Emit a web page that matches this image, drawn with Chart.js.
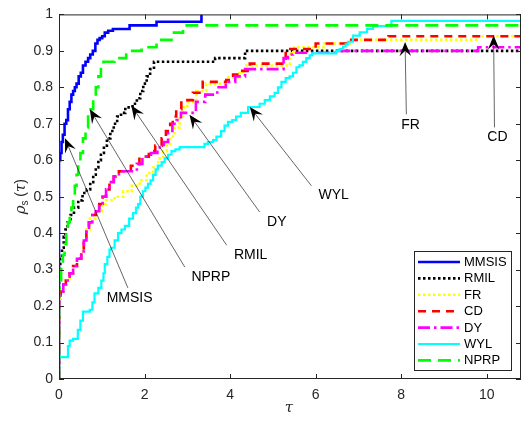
<!DOCTYPE html>
<html>
<head>
<meta charset="utf-8">
<script src="https://cdn.jsdelivr.net/npm/chart.js@4.4.1/dist/chart.umd.min.js"></script>
<style>
  html, body { margin: 0; padding: 0; background: #fff; }
  canvas { display: block; }
</style>
</head>
<body>
<canvas id="profile" width="522" height="421"></canvas>
<script>
// performance profile data (tau, rho(tau))
var mmsisTau = [0, 0, 0.03, 0.06, 0.09, 0.13, 0.17, 0.21, 0.25, 0.29, 0.33, 0.37, 0.41, 0.46, 0.51, 0.56, 0.62, 0.68, 0.73, 0.79, 0.85, 0.9, 0.95, 1.01, 1.07, 1.15, 1.26, 1.65, 2.28, 3.33];
var mmsisRho = [0, 0.6, 0.62, 0.65, 0.67, 0.70, 0.71, 0.74, 0.76, 0.78, 0.79, 0.80, 0.81, 0.83, 0.84, 0.86, 0.87, 0.88, 0.89, 0.90, 0.92, 0.93, 0.935, 0.94, 0.95, 0.955, 0.96, 0.97, 0.98, 1.0];

var rmilTau = [0, 0, 0.03, 0.07, 0.11, 0.15, 0.2, 0.27, 0.35, 0.45, 0.55, 0.65, 0.73, 0.8, 0.86, 0.92, 0.98, 1.05, 1.12, 1.2, 1.28, 1.36, 1.45, 1.55, 1.72, 1.82, 1.9, 1.97, 2.05, 2.13, 2.22, 3.65, 4.35];
var rmilRho = [0, 0.30, 0.33, 0.36, 0.39, 0.41, 0.43, 0.45, 0.47, 0.49, 0.51, 0.52, 0.54, 0.56, 0.58, 0.60, 0.62, 0.64, 0.66, 0.68, 0.70, 0.72, 0.73, 0.745, 0.755, 0.77, 0.79, 0.81, 0.83, 0.85, 0.87, 0.88, 0.90];

var frTau = [0, 0, 0.04, 0.1, 0.16, 0.25, 0.33, 0.42, 0.52, 0.58, 0.64, 0.72, 0.85, 1.0, 1.1, 1.3, 1.5, 1.7, 1.89, 2.05, 2.2, 2.32, 2.43, 2.52, 2.6, 2.7, 2.82, 2.9, 3.0, 3.21, 3.44, 3.91, 4.22, 4.38, 5.4, 5.5, 6.2, 6.8, 9.8];
var frRho = [0, 0.22, 0.24, 0.26, 0.27, 0.29, 0.31, 0.33, 0.35, 0.38, 0.41, 0.44, 0.46, 0.48, 0.49, 0.50, 0.515, 0.53, 0.545, 0.565, 0.58, 0.605, 0.625, 0.645, 0.665, 0.69, 0.72, 0.745, 0.76, 0.79, 0.81, 0.828, 0.842, 0.86, 0.897, 0.91, 0.92, 0.93, 0.94];

var cdTau = [0, 0, 0.04, 0.1, 0.16, 0.25, 0.33, 0.42, 0.52, 0.58, 0.64, 0.7, 0.78, 0.86, 0.94, 1.02, 1.1, 1.18, 1.28, 1.4, 1.68, 1.88, 2.1, 2.25, 2.4, 2.5, 2.6, 2.66, 2.74, 2.86, 3.13, 3.36, 3.91, 4.07, 4.22, 4.46, 5.3, 6.0, 6.8, 7.7];
var cdRho = [0, 0.23, 0.24, 0.26, 0.27, 0.29, 0.31, 0.33, 0.35, 0.38, 0.41, 0.43, 0.45, 0.46, 0.48, 0.50, 0.52, 0.54, 0.555, 0.57, 0.585, 0.61, 0.625, 0.64, 0.66, 0.68, 0.70, 0.72, 0.74, 0.765, 0.785, 0.815, 0.82, 0.835, 0.845, 0.865, 0.905, 0.92, 0.93, 0.94];

var dyTau = [0, 0, 0.04, 0.1, 0.16, 0.25, 0.33, 0.42, 0.52, 0.58, 0.64, 0.7, 0.78, 0.86, 0.94, 1.02, 1.1, 1.18, 1.28, 1.4, 1.82, 1.95, 2.15, 2.3, 2.45, 2.55, 2.65, 2.75, 2.85, 3.2, 3.42, 3.7, 3.9, 4.12, 4.35, 5.25, 5.35, 5.47, 6.45, 9.8];
var dyRho = [0, 0.23, 0.24, 0.26, 0.27, 0.29, 0.31, 0.33, 0.35, 0.38, 0.41, 0.43, 0.45, 0.46, 0.48, 0.50, 0.52, 0.54, 0.555, 0.57, 0.59, 0.61, 0.62, 0.635, 0.65, 0.68, 0.70, 0.71, 0.73, 0.76, 0.78, 0.80, 0.815, 0.83, 0.85, 0.88, 0.89, 0.895, 0.90, 0.91];

var wylTau = [0, 0, 0.21, 0.25, 0.33, 0.44, 0.5, 0.56, 0.72, 0.78, 0.83, 0.92, 0.99, 1.04, 1.07, 1.13, 1.18, 1.22, 1.3, 1.38, 1.46, 1.54, 1.64, 1.73, 1.8, 1.85, 1.9, 1.96, 2.02, 2.08, 2.14, 2.2, 2.26, 2.31, 2.4, 2.47, 2.55, 2.63, 2.72, 2.82, 3.4, 3.48, 3.6, 3.68, 3.79, 3.87, 3.95, 4.05, 4.14, 4.25, 4.42, 4.69, 4.81, 4.93, 5.04, 5.12, 5.2, 5.3, 5.39, 5.47, 5.55, 5.62, 5.7, 5.78, 5.86, 5.92, 6.48, 6.56, 6.64, 6.7, 6.75, 6.87, 7.03, 7.2, 7.34, 7.77];
var wylRho = [0, 0.06, 0.09, 0.105, 0.11, 0.135, 0.16, 0.185, 0.19, 0.21, 0.235, 0.25, 0.27, 0.29, 0.315, 0.335, 0.355, 0.36, 0.38, 0.40, 0.41, 0.42, 0.44, 0.455, 0.47, 0.48, 0.50, 0.515, 0.525, 0.535, 0.545, 0.56, 0.575, 0.585, 0.595, 0.605, 0.615, 0.625, 0.63, 0.636, 0.645, 0.65, 0.655, 0.665, 0.68, 0.695, 0.705, 0.71, 0.72, 0.73, 0.746, 0.755, 0.765, 0.775, 0.785, 0.80, 0.815, 0.825, 0.83, 0.84, 0.855, 0.86, 0.87, 0.88, 0.888, 0.893, 0.90, 0.905, 0.912, 0.918, 0.925, 0.942, 0.951, 0.96, 0.968, 0.982];

var nprpTau = [0, 0, 0.02, 0.05, 0.09, 0.13, 0.17, 0.21, 0.25, 0.29, 0.33, 0.37, 0.41, 0.45, 0.5, 0.56, 0.62, 0.68, 0.74, 0.8, 0.86, 0.92, 0.98, 1.04, 1.3, 1.57, 1.93, 2.28, 2.63, 2.9];
var nprpRho = [0, 0.25, 0.27, 0.30, 0.34, 0.37, 0.40, 0.43, 0.45, 0.47, 0.50, 0.53, 0.56, 0.59, 0.62, 0.66, 0.69, 0.72, 0.74, 0.77, 0.80, 0.83, 0.85, 0.87, 0.88, 0.90, 0.91, 0.93, 0.95, 0.97];

var xTicks = [0, 2, 4, 6, 8, 10];
var yTicks = [0, 0.1, 0.2, 0.3, 0.4, 0.5, 0.6, 0.7, 0.8, 0.9, 1];
var tauMax = 10.8;

// text arrows: label, arrow tip (tau, rho), tail (tau, rho), text centre (tau, rho)
var noteLabels = ['MMSIS', 'NPRP', 'RMIL', 'DY', 'WYL', 'FR', 'CD'];
var noteTip = [[0.14, 0.66], [0.72, 0.74], [1.69, 0.75], [3.05, 0.725], [4.46, 0.746], [8.09, 0.924], [10.16, 0.942]];
var noteTail = [[1.61, 0.25], [2.94, 0.307], [3.92, 0.367], [4.69, 0.458], [5.9, 0.53], [8.12, 0.726], [10.18, 0.69]];
var noteText = [[1.65, 0.222], [3.55, 0.279], [4.48, 0.34], [5.09, 0.43], [6.42, 0.504], [8.22, 0.696], [10.25, 0.663]];

function toPoints(tau, rho, hold) {
  var pts = [];
  for (var i = 0; i < tau.length; i++) {
    pts.push({x: tau[i], y: rho[i]});
  }
  // hold last value until the right edge, like stairs()
  if (hold) pts.push({x: tauMax, y: rho[rho.length - 1]});
  return pts;
}

function series(label, tau, rho, color, dash, width, order, hold) {
  return {
    label: label,
    data: toPoints(tau, rho, hold),
    borderColor: color,
    backgroundColor: color,
    borderDash: dash,
    borderWidth: width,
    stepped: 'before',
    pointRadius: 0,
    fill: false,
    order: order
  };
}

var datasets = [
  series('MMSIS', mmsisTau, mmsisRho, '#0000ff', [], 2.6, 7, false),
  series('RMIL', rmilTau, rmilRho, '#000000', [2.5, 2.5], 2.6, 6, true),
  series('FR', frTau, frRho, '#ffff00', [2.5, 2.5], 2.6, 5, true),
  series('CD', cdTau, cdRho, '#ff0000', [8, 6], 2.6, 4, true),
  series('DY', dyTau, dyRho, '#ff00ff', [12, 4, 2.5, 4], 2.6, 3, true),
  series('WYL', wylTau, wylRho, '#00ffff', [], 2.2, 2, true),
  series('NPRP', nprpTau, nprpRho, '#00ff00', [13, 7], 2.6, 1, true)
];

var axisColor = '#262626';
var fontFamily = '"Liberation Sans", Arial, Helvetica, sans-serif';

var matlabFrame = {
  id: 'matlabFrame',
  afterDraw: function (chart) {
    var ctx = chart.ctx;
    var a = chart.chartArea;
    var xs = chart.scales.x, ys = chart.scales.y;
    ctx.save();

    // axes box with inward ticks
    ctx.strokeStyle = axisColor;
    ctx.lineWidth = 1;
    ctx.setLineDash([]);
    ctx.strokeRect(a.left + 0.5, a.top + 0.5, a.right - a.left - 1, a.bottom - a.top - 1);
    ctx.beginPath();
    xTicks.forEach(function (v) {
      var px = Math.round(xs.getPixelForValue(v)) + 0.5;
      ctx.moveTo(px, a.bottom); ctx.lineTo(px, a.bottom - 5);
      ctx.moveTo(px, a.top); ctx.lineTo(px, a.top + 5);
    });
    yTicks.forEach(function (v) {
      var py = Math.round(ys.getPixelForValue(v)) + 0.5;
      ctx.moveTo(a.left, py); ctx.lineTo(a.left + 5, py);
      ctx.moveTo(a.right, py); ctx.lineTo(a.right - 5, py);
    });
    ctx.stroke();

    // axis titles
    ctx.fillStyle = axisColor;
    ctx.textAlign = 'center';
    ctx.textBaseline = 'middle';
    ctx.font = 'italic 15px "DejaVu Serif", "Liberation Serif", serif';
    ctx.fillText('\u03c4', (a.left + a.right) / 2 - 1, 408);

    ctx.save();
    ctx.translate(20, (a.top + a.bottom) / 2);
    ctx.rotate(-Math.PI / 2);
    ctx.textAlign = 'left';
    ctx.textBaseline = 'alphabetic';
    var greek = 'italic 15px "DejaVu Serif", "Liberation Serif", serif';
    var sub = '10px ' + fontFamily;
    var parts = [['\u03c1', greek, 0], ['s', sub, 3], [' (', '14px ' + fontFamily, 0], ['\u03c4', greek, 0], [')', '14px ' + fontFamily, 0]];
    var total = 0;
    parts.forEach(function (p) { ctx.font = p[1]; total += ctx.measureText(p[0]).width; });
    var cx = -total / 2;
    parts.forEach(function (p) {
      ctx.font = p[1];
      ctx.fillText(p[0], cx, 5 + p[2]);
      cx += ctx.measureText(p[0]).width;
    });
    ctx.restore();

    // text arrows
    ctx.font = '14px ' + fontFamily;
    ctx.textAlign = 'center';
    ctx.textBaseline = 'middle';
    noteLabels.forEach(function (label, i) {
      var tx = xs.getPixelForValue(noteTip[i][0]), ty = ys.getPixelForValue(noteTip[i][1]);
      var sx = xs.getPixelForValue(noteTail[i][0]), sy = ys.getPixelForValue(noteTail[i][1]);
      var dx = tx - sx, dy = ty - sy;
      var len = Math.sqrt(dx * dx + dy * dy);
      var ux = dx / len, uy = dy / len;
      var nx = -uy, ny = ux;
      var L = 14, W = 5.8;
      ctx.strokeStyle = '#222';
      ctx.lineWidth = 0.7;
      ctx.beginPath();
      ctx.moveTo(sx, sy);
      ctx.lineTo(tx - ux * L * 0.6, ty - uy * L * 0.6);
      ctx.stroke();
      ctx.fillStyle = '#000';
      ctx.beginPath();
      ctx.moveTo(tx, ty);
      ctx.lineTo(tx - ux * L + nx * W, ty - uy * L + ny * W);
      ctx.lineTo(tx - ux * L * 0.62, ty - uy * L * 0.62);
      ctx.lineTo(tx - ux * L - nx * W, ty - uy * L - ny * W);
      ctx.closePath();
      ctx.fill();
      ctx.fillStyle = '#000';
      ctx.fillText(label, xs.getPixelForValue(noteText[i][0]), ys.getPixelForValue(noteText[i][1]));
    });

    // legend box, bottom right inside the axes
    var boxW = 97, boxH = 119;
    var bx = a.right - 10 - boxW, by = a.bottom - 9 - boxH;
    ctx.fillStyle = '#fff';
    ctx.fillRect(bx, by, boxW, boxH);
    ctx.strokeStyle = axisColor;
    ctx.lineWidth = 1;
    ctx.strokeRect(Math.round(bx) + 0.5, Math.round(by) + 0.5, boxW, boxH);
    ctx.font = '13px ' + fontFamily;
    ctx.textAlign = 'left';
    ctx.textBaseline = 'middle';
    chart.data.datasets.forEach(function (ds, i) {
      var ly = by + 11 + i * 16.4;
      ctx.strokeStyle = ds.borderColor;
      ctx.lineWidth = ds.borderWidth;
      ctx.setLineDash(ds.borderDash);
      ctx.beginPath();
      ctx.moveTo(bx + 4, ly);
      ctx.lineTo(bx + 46, ly);
      ctx.stroke();
      ctx.setLineDash([]);
      ctx.fillStyle = '#000';
      ctx.fillText(ds.label, bx + 50, ly + 0.5);
    });
    ctx.restore();
  }
};

var chart = new Chart(document.getElementById('profile'), {
  type: 'line',
  data: { datasets: datasets },
  options: {
    responsive: false,
    animation: false,
    devicePixelRatio: 1,
    layout: { padding: { top: 14, right: 1, left: 0, bottom: 0 } },
    plugins: {
      legend: { display: false },
      tooltip: { enabled: false }
    },
    scales: {
      x: {
        type: 'linear',
        min: 0,
        max: tauMax,
        afterFit: function (scale) { scale.height = 42; },
        afterBuildTicks: function (scale) {
          scale.ticks = xTicks.map(function (v) { return {value: v}; });
        },
        grid: { display: false, drawTicks: false },
        border: { display: false },
        ticks: {
          color: axisColor,
          padding: 8,
          maxRotation: 0,
          font: { family: fontFamily, size: 14 },
          callback: function (v) { return String(v); }
        }
      },
      y: {
        type: 'linear',
        min: 0,
        max: 1,
        afterFit: function (scale) { scale.width = 59; },
        afterBuildTicks: function (scale) {
          scale.ticks = yTicks.map(function (v) { return {value: v}; });
        },
        grid: { display: false, drawTicks: false },
        border: { display: false },
        ticks: {
          color: axisColor,
          padding: 6,
          font: { family: fontFamily, size: 14 },
          callback: function (v) { return String(Math.round(v * 10) / 10); }
        }
      }
    }
  },
  plugins: [matlabFrame]
});
</script>
</body>
</html>
